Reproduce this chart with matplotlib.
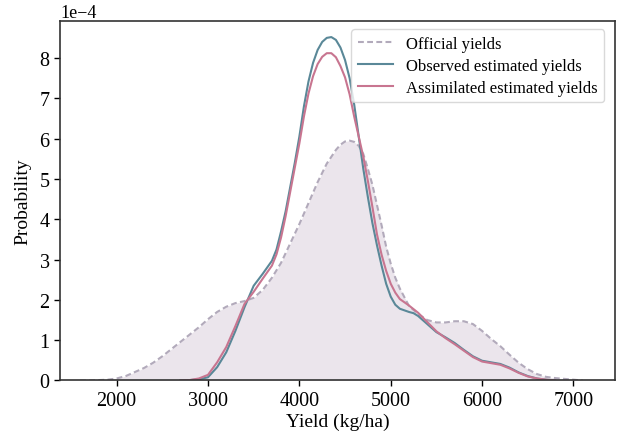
import matplotlib
matplotlib.use("Agg")
import matplotlib.pyplot as plt
import numpy as np

plt.rcParams['font.family'] = ['Liberation Serif', 'DejaVu Serif']
plt.rcParams['axes.unicode_minus'] = True

# Yield grid (kg/ha) and densities (units of 1e-4)
x_official = [1600, 1700, 1800, 1900, 2000, 2100, 2200, 2300, 2400, 2500, 2600, 2700, 2800, 2900,
              3000, 3100, 3200, 3300, 3400, 3500, 3600, 3700, 3800, 3900, 4000, 4100, 4200, 4300,
              4400, 4450, 4500, 4550, 4600, 4650, 4700, 4750, 4800, 4850, 4900, 4950, 5000, 5050,
              5100, 5200, 5300, 5400, 5500, 5600, 5700, 5800, 5900, 6000, 6100, 6200, 6300, 6400,
              6500, 6600, 6700, 6800, 6900, 7000, 7100]
y_official = [0.0, 0.0, 0.01, 0.02, 0.05, 0.11, 0.21, 0.31, 0.44, 0.60, 0.78, 0.96, 1.14, 1.32,
              1.52, 1.70, 1.83, 1.92, 1.97, 2.05, 2.25, 2.55, 2.92, 3.40, 3.88, 4.40, 4.92, 5.38,
              5.72, 5.85, 5.93, 5.95, 5.92, 5.82, 5.62, 5.25, 4.85, 4.35, 3.85, 3.32, 2.90, 2.55,
              2.28, 1.85, 1.65, 1.50, 1.44, 1.44, 1.47, 1.47, 1.40, 1.23, 1.03, 0.85, 0.64, 0.44,
              0.28, 0.16, 0.09, 0.06, 0.04, 0.02, 0.0]

x_observed = [2700, 2800, 2900, 3000, 3100, 3200, 3300, 3400, 3500, 3600, 3700, 3750, 3800, 3850,
              3900, 3950, 4000, 4050, 4100, 4150, 4200, 4250, 4300, 4350, 4400, 4450, 4500, 4550,
              4600, 4650, 4700, 4750, 4800, 4850, 4900, 4950, 5000, 5050, 5100, 5200, 5250, 5300,
              5400, 5500, 5600, 5700, 5800, 5900, 6000, 6100, 6200, 6300, 6400, 6500, 6600, 6700,
              6800]
y_observed = [0.0, 0.01, 0.03, 0.08, 0.33, 0.70, 1.23, 1.82, 2.35, 2.65, 2.97, 3.25, 3.70, 4.20,
              4.80, 5.40, 6.05, 6.80, 7.42, 7.88, 8.20, 8.40, 8.50, 8.52, 8.45, 8.26, 7.95, 7.50,
              6.85, 6.05, 5.25, 4.55, 3.90, 3.35, 2.85, 2.40, 2.08, 1.88, 1.78, 1.70, 1.67, 1.60,
              1.40, 1.20, 1.07, 0.93, 0.76, 0.60, 0.49, 0.45, 0.41, 0.32, 0.20, 0.11, 0.05, 0.02,
              0.0]

x_assimilated = [2700, 2800, 2900, 3000, 3100, 3200, 3300, 3400, 3500, 3600, 3700, 3750, 3800,
                 3850, 3900, 3950, 4000, 4050, 4100, 4150, 4200, 4250, 4300, 4350, 4400, 4450,
                 4500, 4550, 4600, 4650, 4700, 4750, 4800, 4850, 4900, 4950, 5000, 5050, 5100,
                 5200, 5300, 5400, 5500, 5600, 5700, 5800, 5900, 6000, 6100, 6200, 6300, 6400,
                 6500, 6600, 6700, 6800]
y_assimilated = [0.0, 0.01, 0.05, 0.14, 0.45, 0.83, 1.35, 1.90, 2.20, 2.53, 2.85, 3.13, 3.55,
                 4.08, 4.68, 5.28, 5.88, 6.55, 7.12, 7.55, 7.85, 8.03, 8.12, 8.12, 8.02, 7.80,
                 7.52, 7.10, 6.55, 6.05, 5.55, 4.95, 4.30, 3.62, 3.12, 2.72, 2.40, 2.18, 2.02,
                 1.86, 1.68, 1.45, 1.22, 1.05, 0.90, 0.74, 0.58, 0.47, 0.43, 0.39, 0.30, 0.19,
                 0.10, 0.05, 0.02, 0.0]

labels = ["Official yields", "Observed estimated yields", "Assimilated estimated yields"]
scale = 1e-4

c_off = "#b2aabb"
c_fill = "#ebe5ec"
c_obs = "#5a8898"
c_asm = "#c87590"

fig = plt.figure(figsize=(6.17, 4.39), dpi=100)
ax = fig.add_axes([0.0972, 0.131, 0.8996, 0.819])

xo = np.array(x_official)
yo = np.array(y_official) * scale
ax.fill_between(xo, 0, yo, color=c_fill, linewidth=0)
ax.plot(xo, yo, color=c_off, linestyle=(0, (2.8, 1.6)), linewidth=1.5, label=labels[0])
ax.plot(x_observed, np.array(y_observed) * scale, color=c_obs, linewidth=1.5, label=labels[1])
ax.plot(x_assimilated, np.array(y_assimilated) * scale, color=c_asm, linewidth=1.5, label=labels[2])

ax.set_xlim(1380, 7455)
ax.set_ylim(0, 8.92e-4)
ax.set_xticks([2000, 3000, 4000, 5000, 6000, 7000])
ax.set_yticks(np.arange(0, 9) * scale)
ax.ticklabel_format(axis='y', style='sci', scilimits=(0, 0))
ax.yaxis.get_offset_text().set_fontsize(13)
ax.tick_params(labelsize=14.5, length=4, width=1, colors='black')
for s in ax.spines.values():
    s.set_color('#333333')
    s.set_linewidth(1.2)

ax.set_xlabel("Yield (kg/ha)", fontsize=14, labelpad=2)
ax.set_ylabel("Probability", fontsize=14, labelpad=6)

leg = ax.legend(loc='upper right', fontsize=12, frameon=True, fancybox=True,
                borderpad=0.4, labelspacing=0.35, handlelength=2.1, handletextpad=0.75,
                bbox_to_anchor=(0.995, 1.0))
leg.get_frame().set_edgecolor('#d0d0d0')
leg.get_frame().set_linewidth(1.0)

fig.savefig("out.png", dpi=100)
